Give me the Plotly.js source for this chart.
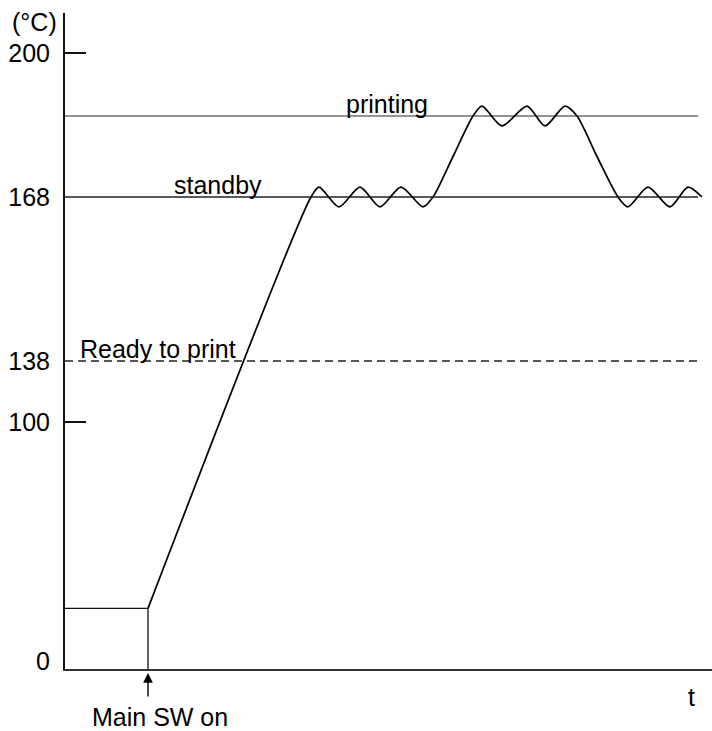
<!DOCTYPE html>
<html>
<head>
<meta charset="utf-8">
<script src="https://cdn.plot.ly/plotly-3.0.1.min.js"></script>
<style>html,body{margin:0;padding:0;background:#fff;}#chart{width:712px;height:731px;}</style>
</head>
<body>
<div id="chart"></div>
<script>
// ---- data (schematic) ----
// time in arbitrary units, temperature in °C
const roomTemp = 22;
const switchOnTime = 83;
const curveTime = [83, 246, 254, 274, 295, 315, 336, 358, 368, 388, 408, 417, 437, 462, 480, 500, 512, 532, 553, 563, 583, 605, 623, 637];
const curveTemp = [22, 168, 170.2, 166.2, 170.2, 166.2, 170.2, 166.2, 168, 177, 186, 188.2, 183.8, 188.2, 183.8, 188.2, 186, 177, 168, 166.2, 170.2, 166.2, 170.2, 168];
const levelNames = ["printing", "standby", "Ready to print"];
const levelTemps = [186, 168, 138];
const levelStart = 0, levelEnd = 633;
const tickTemps = [0, 100, 138, 168, 200];
const tickLabels = ["0", "100", "138", "168", "200"];
const markedTicks = [100, 200];

// ---- schematic (non-linear) temperature axis ----
const scaleTemps = [0, 100, 138, 168, 200];
const scalePos = [8, 247, 308, 472, 616];
function pos(t) {
  let i = 0;
  if (t <= scaleTemps[0]) i = 0;
  else if (t >= scaleTemps[scaleTemps.length - 1]) i = scaleTemps.length - 2;
  else { while (t > scaleTemps[i + 1]) i++; }
  const t0 = scaleTemps[i], t1 = scaleTemps[i + 1], p0 = scalePos[i], p1 = scalePos[i + 1];
  return p0 + (t - t0) * (p1 - p0) / (t1 - t0);
}
const yMin = 0, yMax = 656;

const FONT = "Liberation Sans, Arial, Helvetica, sans-serif";
const traces = [];

// reference levels
const levelColors = ["#707070", "#222", "#222"];
const levelDash = ["solid", "solid", "8px,5px"];
levelTemps.forEach((t, i) => {
  traces.push({
    x: [levelStart, levelEnd], y: [pos(t), pos(t)], mode: "lines", type: "scatter",
    line: {color: levelColors[i], width: 1.3, dash: levelDash[i]}, hoverinfo: "skip", showlegend: false
  });
});
// initial period before switch-on
traces.push({
  x: [0, switchOnTime, switchOnTime], y: [pos(roomTemp), pos(roomTemp), yMin],
  mode: "lines", type: "scatter", line: {color: "#111", width: 1.3}, showlegend: false, hoverinfo: "skip"
});
// temperature curve
traces.push({
  x: curveTime, y: curveTemp.map(pos), mode: "lines", type: "scatter",
  line: {color: "#000", width: 1.7, shape: "spline", smoothing: 0.75}, showlegend: false, hoverinfo: "skip"
});
// ticks-only overlay
traces.push({x: [0], y: [0], yaxis: "y2", mode: "markers", marker: {opacity: 0}, showlegend: false, hoverinfo: "skip"});

const labelX = [322, 153, 13];
const labelAnchor = ["center", "center", "left"];
const annotations = levelNames.map((n, i) => ({
  text: n, x: labelX[i], y: pos(levelTemps[i]), xref: "x", yref: "y",
  xanchor: labelAnchor[i], yanchor: "bottom", yshift: -4, showarrow: false,
  font: {family: FONT, size: 25, color: "#000"}
}));
annotations.push({
  text: "Main SW on", xref: "paper", yref: "paper", x: (160 - 65) / 647, y: (669 - 717) / 656,
  xanchor: "center", yanchor: "middle", showarrow: false, font: {family: FONT, size: 25, color: "#000"}
});
annotations.push({
  text: "", xref: "x", yref: "paper", x: switchOnTime, y: -4 / 656, ax: 0, ay: 25,
  showarrow: true, arrowhead: 2, arrowsize: 1.4, arrowwidth: 1.4, arrowcolor: "#000", standoff: 0
});
annotations.push({
  text: "t", xref: "paper", yref: "paper", x: (691 - 65) / 647, y: (669 - 697) / 656,
  xanchor: "center", yanchor: "middle", showarrow: false, font: {family: FONT, size: 25, color: "#000"}
});
annotations.push({
  text: "(°C)", xref: "paper", yref: "paper", x: (34 - 65) / 647, y: (669 - 22) / 656,
  xanchor: "center", yanchor: "middle", showarrow: false, font: {family: FONT, size: 25, color: "#000"}
});

const layout = {
  width: 712, height: 731,
  margin: {l: 65, r: 0, t: 13, b: 62},
  paper_bgcolor: "#fff", plot_bgcolor: "#fff",
  font: {family: FONT, size: 25, color: "#000"},
  xaxis: {range: [0, 647], showgrid: false, zeroline: false, showticklabels: false, ticks: "",
          showline: true, linecolor: "#333", linewidth: 2},
  yaxis: {range: [yMin, yMax], showgrid: false, zeroline: false, showline: true, linecolor: "#111", linewidth: 2,
          tickmode: "array", tickvals: tickTemps.map(pos), ticktext: tickLabels, ticks: "",
          ticklabelstandoff: 8, tickfont: {family: FONT, size: 25, color: "#000"}},
  yaxis2: {range: [yMin, yMax], overlaying: "y", side: "left", showgrid: false, zeroline: false, showline: false,
           tickmode: "array", tickvals: markedTicks.map(pos), ticks: "inside", ticklen: 21, tickwidth: 1.3,
           tickcolor: "#111", showticklabels: false},
  annotations: annotations,
  showlegend: false
};
Plotly.newPlot("chart", traces, layout, {staticPlot: true});
</script>
</body>
</html>
